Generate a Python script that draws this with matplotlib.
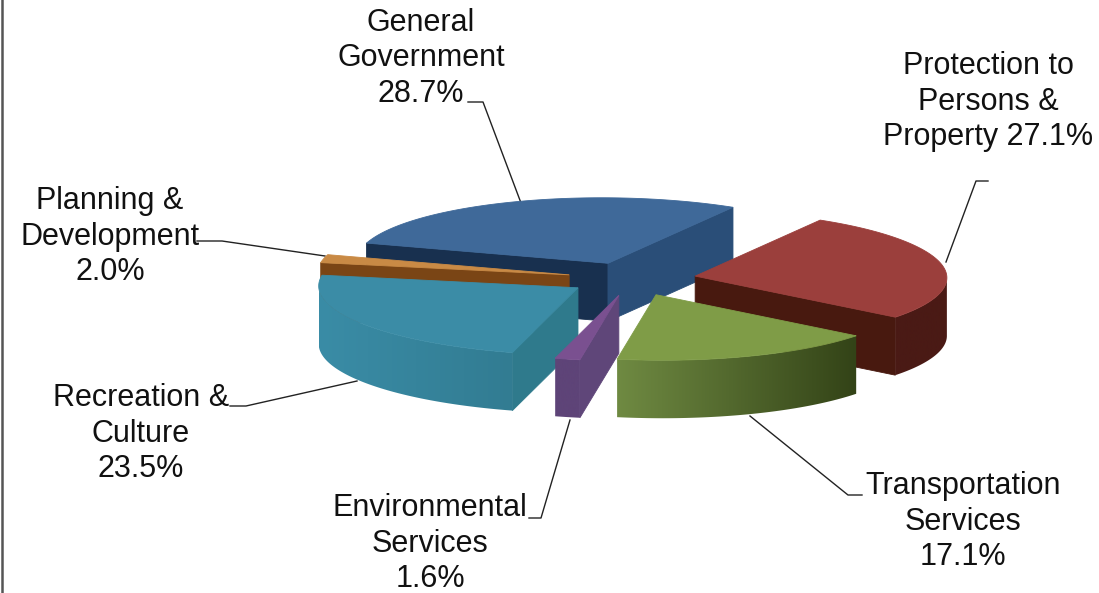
import numpy as np
import matplotlib
matplotlib.use('Agg')
import matplotlib.pyplot as plt
from matplotlib.colors import LinearSegmentedColormap
from matplotlib.patches import Polygon

# Data, in the order the pie goes round clockwise
names = ['General\nGovernment', 'Protection to\nPersons &\nProperty', 'Transportation\nServices',
         'Environmental\nServices', 'Recreation &\nCulture', 'Planning &\nDevelopment']
shares = [28.7, 27.1, 17.1, 1.6, 23.5, 2.0]

# Colours: top, radial faces, outer edge at its left end and at its right end
top_colors = ['#3F6999', '#9B3F3C', '#7F9C47', '#7A5090', '#3B8CA6', '#C98A45']
face_colors = ['#18304F', '#48190F', '#4E6530', '#5F4679', '#2F7A8C', '#7A4515']
right_face_colors = ['#2A4E78', '#48190F', '#4E6530', '#5F4679', '#2F7A8C', '#7A4515']
edge_left = ['#2A4E78', '#4A1A15', '#6F8A42', '#5E4478', '#3A8CA6', '#7A4515']
edge_right = ['#2A4E78', '#4A1A15', '#334317', '#5E4478', '#327C92', '#7A4515']
draw_order = [0, 1, 5, 2, 4, 3]
radius = [1.0, 1.0, 1.0, 1.0, 1.03, 1.0]

# Projection of the unit disc on the picture (pixels)
center = np.array([632.0, 279.0])
axis_u = np.array([125.0, -56.0])
axis_v = np.array([218.5, 34.0])
explode = 0.256
depth = 58.0


def disc(t):
    t = np.radians(t)
    return np.outer(np.cos(t), axis_u) + np.outer(np.sin(t), axis_v)


def quad(ax, p, q, color, zorder):
    pts = np.array([p, q, q + [0, depth], p + [0, depth]])
    ax.fill(pts[:, 0], pts[:, 1], color=color, lw=0.6, zorder=zorder)


fig = plt.figure(figsize=(10.99, 5.93), dpi=100)
ax = fig.add_axes([0, 0, 1, 1])
ax.axis('off')

spans = np.array(shares) * 3.6
starts = np.cumsum(np.r_[0, spans[:-1]]) - spans[0]

for rank, i in enumerate(draw_order):
    z = 2 + rank
    t = np.linspace(starts[i], starts[i] + spans[i], 120)
    mid = starts[i] + spans[i] / 2
    apex = center + explode * disc([mid])[0]
    arc = apex + radius[i] * disc(t)

    # Only the faces that turn towards the viewer (going right to left) show
    if arc[0, 0] < apex[0]:
        quad(ax, apex, arc[0], face_colors[i], z)
    if arc[-1, 0] > apex[0]:
        quad(ax, arc[-1], apex, right_face_colors[i], z)

    # Outer edge: a left to right gradient clipped to the visible run of the arc
    visible = arc[np.r_[np.diff(arc[:, 0]) < 0, False] | np.r_[False, np.diff(arc[:, 0]) < 0]]
    if len(visible) > 1:
        band = np.vstack([visible, visible[::-1] + [0, depth]])
        x0, x1 = arc[:, 0].min(), arc[:, 0].max()
        cmap = LinearSegmentedColormap.from_list('edge', [edge_left[i], edge_right[i]])
        im = ax.imshow(np.linspace(0, 1, 128).reshape(1, -1), cmap=cmap, aspect='auto',
                       extent=(x0, x1, 500, 100), zorder=z)
        clip = Polygon(band, transform=ax.transData, fc='none', ec='none')
        ax.add_patch(clip)
        im.set_clip_path(clip)

    outline = np.vstack([apex, arc])
    ax.fill(outline[:, 0], outline[:, 1], color=top_colors[i], lw=0.6, zorder=z + 0.5)

# Leader lines
leaders = [
    ([468, 483, 521], [102, 102, 203]),
    ([988, 976, 946], [181, 181, 262]),
    ([862, 848, 750], [495, 495, 416]),
    ([529, 541, 570], [518, 518, 420]),
    ([230, 246, 357], [406, 406, 381]),
    ([197, 222, 325], [241, 241, 256]),
]
for lx, ly in leaders:
    ax.plot(lx, ly, color='#222222', lw=1.0, zorder=1)

# Labels: centre x and y of the first line
label_pos = [(421, 23), (988, 66), (963, 486), (430, 508), (141, 398), (110, 201)]
for name, share, (lx, ly) in zip(names, shares, label_pos):
    if name.endswith('Property'):
        lines = name.split('\n')[:-1] + [f'Property {share:.1f}%']
    else:
        lines = name.split('\n') + [f'{share:.1f}%']
    for k, line in enumerate(lines):
        ax.text(lx, ly + 35.5 * k, line, family='Liberation Sans', fontsize=22, color='#111111',
                ha='center', va='center', zorder=20)

# Chart frame, only its left side is in the picture
ax.plot([2, 2], [0, 593], color='#555555', lw=1.8, zorder=21)

ax.set_xlim(0, 1099)
ax.set_ylim(593, 0)
fig.savefig('out.png', dpi=100)
